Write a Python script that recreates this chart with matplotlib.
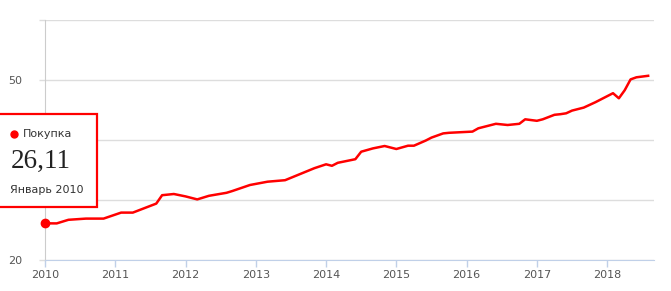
import matplotlib.pyplot as plt
import matplotlib.patches as patches
from matplotlib.lines import Line2D

# Месяцы от января 2010 (индекс 0) и курс покупки
months = [0, 2, 4, 7, 10, 13, 15, 19, 20, 22, 24, 26, 28, 31, 32, 35, 38, 41,
          44, 46, 48, 49, 50, 53, 54, 56, 58, 60, 62, 63, 65, 66, 68, 69, 73,
          74, 77, 79, 81, 82, 84, 85, 87, 88, 89, 90, 92, 94, 95, 97, 98, 99,
          100, 101, 103]
values = [26.11, 26.1, 26.7, 26.9, 26.9, 27.9, 27.9, 29.4, 30.8, 31.0, 30.6,
          30.1, 30.7, 31.2, 31.5, 32.5, 33.05, 33.3, 34.5, 35.3, 35.95, 35.7,
          36.2, 36.8, 38.05, 38.6, 39.0, 38.5, 39.05, 39.05, 39.9, 40.4, 41.1,
          41.2, 41.4, 41.95, 42.7, 42.5, 42.7, 43.45, 43.2, 43.45, 44.2, 44.3,
          44.45, 44.9, 45.4, 46.3, 46.8, 47.8, 46.95, 48.3, 50.1, 50.45, 50.7]

years = [str(y) for y in range(2010, 2019)]
year_ticks = [12 * i for i in range(len(years))]
y_ticks = [20, 30, 40, 50, 60]
y_labels = ["20", "30", "40", "50", ""]

W, H = 671, 291
fig = plt.figure(figsize=(W / 100, H / 100), dpi=100)
ax = fig.add_axes([45 / W, 1 - 260 / H, 609 / W, 240 / H])

ax.plot(months, values, color="#ff0000", lw=1.8, zorder=3)
ax.plot(months[0], values[0], "o", color="#ff0000", ms=6, zorder=4, clip_on=False)

ax.set_xlim(0, 104)
ax.set_ylim(20, 60)
ax.set_xticks(year_ticks)
ax.set_xticklabels(years)
ax.set_yticks(y_ticks)
ax.set_yticklabels(y_labels)

ax.grid(axis="y", color="#dddddd", lw=1)
ax.set_axisbelow(True)
for s in ["top", "right"]:
    ax.spines[s].set_visible(False)
ax.spines["left"].set_color("#cccccc")
ax.spines["bottom"].set_color("#c0d0e8")
ax.spines["bottom"].set_zorder(5)
ax.tick_params(axis="x", colors="#c0d0e8", length=5, width=1, labelcolor="#555555",
               labelsize=8, pad=2)
ax.tick_params(axis="y", colors="#dddddd", length=4.3, width=1, labelcolor="#555555",
               labelsize=8, pad=12)

# Всплывающая подсказка
box = patches.Rectangle((-3 / W, 1 - 207 / H), 100 / W, 93 / H,
                        transform=fig.transFigure, facecolor="white",
                        edgecolor="#ff0000", lw=1.6, zorder=10)
fig.add_artist(box)
fig.add_artist(Line2D([14 / W], [1 - 134 / H], marker="o", ms=5, color="#ff0000",
                      transform=fig.transFigure, zorder=11))
fig.text(23 / W, 1 - 134 / H, "Покупка", color="#333333", fontsize=8,
         ha="left", va="center", zorder=11)
fig.text(11 / W, 1 - 161 / H, "26,11", color="#222222", fontsize=19.5,
         family="Liberation Serif", ha="left", va="center", zorder=11)
fig.text(10 / W, 1 - 190 / H, "Январь 2010", color="#333333", fontsize=8,
         ha="left", va="center", zorder=11)

fig.savefig("out.png", dpi=100)
